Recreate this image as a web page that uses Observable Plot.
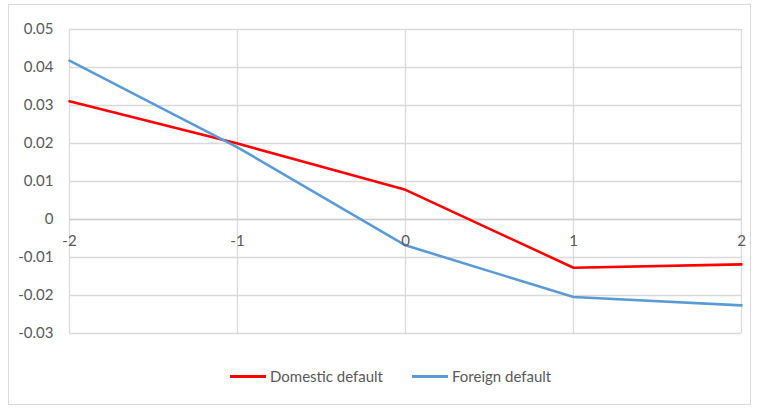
<!DOCTYPE html>
<html>
<head>
<meta charset="utf-8">
<script src="https://cdn.jsdelivr.net/npm/d3@7"></script>
<script src="https://cdn.jsdelivr.net/npm/@observablehq/plot@0.6"></script>
<style>
  html, body { margin: 0; padding: 0; background: #fff; }
  body { width: 761px; height: 408px; position: relative; overflow: hidden; font-family: Lato, "Liberation Sans", sans-serif; }
  #frame { position: absolute; left: 8px; top: 4px; width: 743px; height: 401px; border: 1px solid #d9d9d9; box-sizing: border-box; }
  #chart { position: absolute; left: 0; top: 0; }
  #legend { position: absolute; top: 366px; left: 0; width: 761px; height: 20px; font-size: 15px; color: #595959; }
  .item { position: absolute; top: 0; display: flex; align-items: center; height: 20px; }
  .swatch { width: 36px; height: 3px; margin-right: 4px; }
</style>
</head>
<body>
<div id="frame"></div>
<div id="chart"></div>
<div id="legend"></div>
<script>
const xValues = [-2, -1, 0, 1, 2];
const domestic = [0.0311, 0.0200, 0.0078, -0.0127, -0.0118];
const foreign = [0.0418, 0.0190, -0.0068, -0.0204, -0.0226];
const seriesNames = ["Domestic default", "Foreign default"];
const seriesColors = ["#ff0000", "#5b9bd5"];
const yTicks = [-0.03, -0.02, -0.01, 0, 0.01, 0.02, 0.03, 0.04, 0.05];
const yTickLabels = ["-0.03", "-0.02", "-0.01", "0", "0.01", "0.02", "0.03", "0.04", "0.05"];
const xTickLabels = ["-2", "-1", "0", "1", "2"];

const rows = [];
xValues.forEach((x, i) => {
  rows.push({x, y: domestic[i], s: seriesNames[0]});
  rows.push({x, y: foreign[i], s: seriesNames[1]});
});
const xTickRows = xValues.map((x, i) => ({x, label: xTickLabels[i]}));

const plot = Plot.plot({
  width: 761,
  height: 350,
  marginLeft: 69,
  marginRight: 20,
  marginTop: 29,
  marginBottom: 17,
  style: {fontFamily: "Lato, 'Liberation Sans', sans-serif", fontSize: "15px", color: "#595959", background: "transparent"},
  x: {domain: [-2, 2], axis: null},
  y: {domain: [-0.03, 0.05], axis: null},
  color: {domain: seriesNames, range: seriesColors},
  marks: [
    Plot.gridY(yTicks, {stroke: "#d9d9d9", strokeOpacity: 1, strokeWidth: 1.3}),
    Plot.gridX(xValues, {stroke: "#d9d9d9", strokeOpacity: 1, strokeWidth: 1.3}),
    Plot.ruleY([0], {stroke: "#cfcfcf", strokeWidth: 1.3}),
    Plot.line(rows, {x: "x", y: "y", z: "s", stroke: "s", strokeWidth: 2.6}),
    Plot.text(xTickRows, {x: "x", y: () => 0, text: "label", dy: 22, fill: "#595959", fontSize: 15}),
    Plot.axisY({ticks: yTicks, tickFormat: d => yTickLabels[yTicks.indexOf(d)], tickSize: 0, tickPadding: 16, label: null, fontSize: 15})
  ]
});
document.getElementById("chart").appendChild(plot);

const legend = document.getElementById("legend");
const positions = [230, 412];
seriesNames.forEach((name, i) => {
  const item = document.createElement("div");
  item.className = "item";
  item.style.left = positions[i] + "px";
  const sw = document.createElement("div");
  sw.className = "swatch";
  sw.style.background = seriesColors[i];
  const t = document.createElement("span");
  t.textContent = name;
  item.appendChild(sw);
  item.appendChild(t);
  legend.appendChild(item);
});
</script>
</body>
</html>
